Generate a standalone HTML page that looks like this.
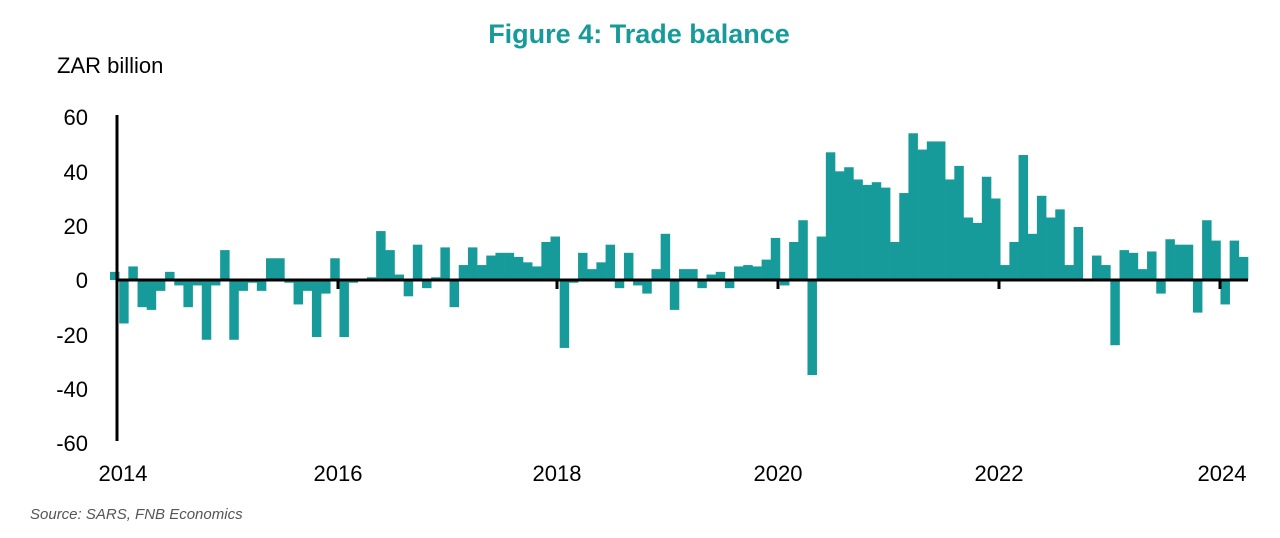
<!DOCTYPE html>
<html><head><style>
body{margin:0;background:#fff;}
</style></head><body>
<svg width="1280" height="533" xmlns="http://www.w3.org/2000/svg" font-family="Liberation Sans, sans-serif">
<text x="639" y="43" text-anchor="middle" font-size="27" font-weight="bold" fill="#169b9a">Figure 4: Trade balance</text>
<text x="57" y="73" font-size="22" fill="#000">ZAR billion</text>
<g font-size="22" fill="#000" text-anchor="end">
<text x="88" y="125">60</text>
<text x="88" y="180">40</text>
<text x="88" y="234">20</text>
<text x="88" y="288">0</text>
<text x="88" y="343">-20</text>
<text x="88" y="397">-40</text>
<text x="88" y="451">-60</text>
</g>
<g font-size="22" fill="#000" text-anchor="middle">
<text x="123" y="481">2014</text>
<text x="338" y="481">2016</text>
<text x="557" y="481">2018</text>
<text x="778" y="481">2020</text>
<text x="999" y="481">2022</text>
<text x="1222" y="481">2024</text>
</g>
<text x="30" y="519" font-size="15" font-style="italic" fill="#555">Source: SARS, FNB Economics</text>
<g id="bars" fill="#169b9a"></g>
<line x1="117" y1="115" x2="117" y2="441" stroke="#000" stroke-width="3"/>
<line x1="117" y1="280" x2="1248" y2="280" stroke="#000" stroke-width="3"/>
<g stroke="#000" stroke-width="3">
<line x1="338" y1="280" x2="338" y2="289"/>
<line x1="557" y1="280" x2="557" y2="289"/>
<line x1="778" y1="280" x2="778" y2="289"/>
<line x1="999" y1="280" x2="999" y2="289"/>
<line x1="1220" y1="280" x2="1220" y2="289"/>
</g>
</svg>
<script>
var v=[3,-16,5,-10,-11,-4,3,-2,-10,-2,-22,-2,
11,-22,-4,-1,-4,8,8,-1,-9,-4,-21,-5,
8,-21,-1,0,1,18,11,2,-6,13,-3,1,
12,-10,5.5,12,5.5,9,10,10,8.5,6.5,5,14,
16,-25,-1,10,4,6.5,13,-3,10,-2,-5,4,
17,-11,4,4,-3,2,3,-3,5,5.5,5,7.5,
15.5,-2,14,22,-35,16,47,40,41.5,37,35,36,
34,14,32,54,48,51,51,37,42,23,21,38,
30,5.5,14,46,17,31,23,26,5.5,19.5,0,9,
5.5,-24,11,10,4,10.5,-5,15,13,13,-12,22,14.5,-9,14.5,8.5];
var g=document.getElementById('bars'),s='',st=(1248-110)/v.length;
for(var i=0;i<v.length;i++){var x=110+i*st,h=v[i]*2.717;var y=h>0?280-h:280;
s+='<rect x="'+x.toFixed(2)+'" y="'+y.toFixed(2)+'" width="'+(st+0.3).toFixed(2)+'" height="'+Math.abs(h).toFixed(2)+'"/>';}
g.innerHTML=s;
</script>
</body></html>
